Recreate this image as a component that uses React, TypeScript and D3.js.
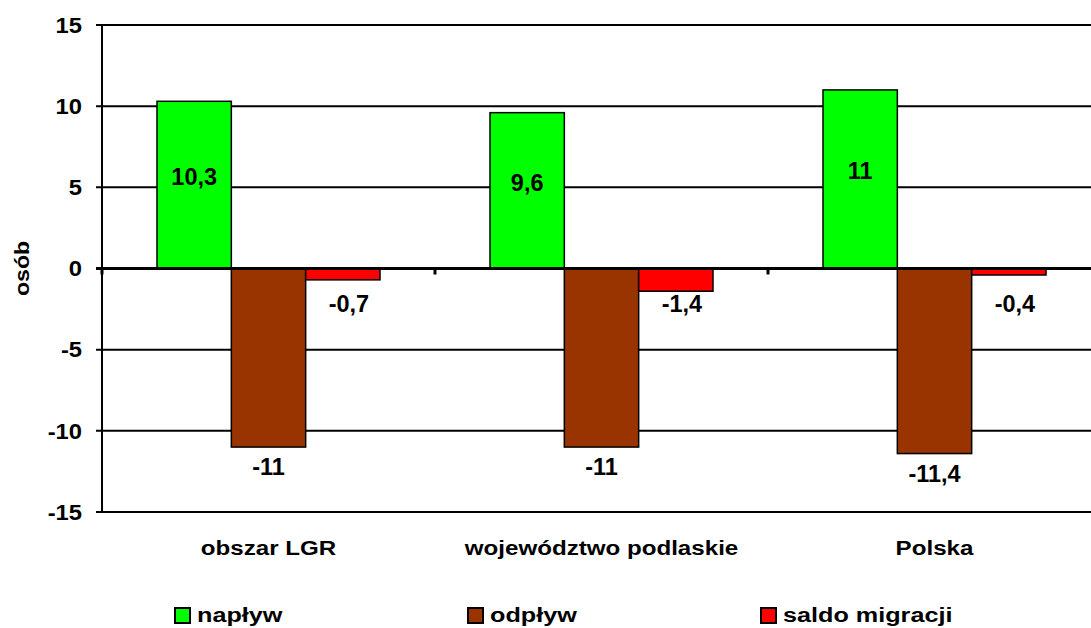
import React from "react";
import * as d3 from "d3";

const categories = ["obszar LGR", "województwo podlaskie", "Polska"];
const seriesNames = ["napływ", "odpływ", "saldo migracji"];
const naplyw = [10.3, 9.6, 11];
const odplyw = [-11, -11, -11.4];
const saldo = [-0.7, -1.4, -0.4];
const labelsNaplyw = ["10,3", "9,6", "11"];
const labelsOdplyw = ["-11", "-11", "-11,4"];
const labelsSaldo = ["-0,7", "-1,4", "-0,4"];
const yTicks = [-15, -10, -5, 0, 5, 10, 15];
const colors = ["#00ff00", "#993300", "#ff0000"];

const W = 1091;
const H = 628;
const FONT = "'Liberation Sans', Arial, sans-serif";

function SText(props: {
  x: number;
  y: number;
  sx?: number;
  size: number;
  anchor?: "start" | "middle" | "end";
  children: React.ReactNode;
}) {
  const { x, y, sx = 1, size, anchor = "start", children } = props;
  return (
    <text
      transform={`translate(${x},${y}) scale(${sx},1)`}
      dy="0.35em"
      textAnchor={anchor}
      fontSize={size}
      fill="#000"
    >
      {children}
    </text>
  );
}

export default function App() {
  const left = 102;
  const bandW = 333;
  const x = d3
    .scaleBand<string>()
    .domain(categories)
    .range([left, left + bandW * categories.length])
    .paddingInner(0)
    .paddingOuter(0);
  const inner = d3
    .scaleBand<string>()
    .domain(seriesNames)
    .range([55, bandW - 55])
    .padding(0);
  const y = d3.scaleLinear().domain([-15, 15]).range([512, 25]);

  const series = [
    { name: seriesNames[0], values: naplyw, labels: labelsNaplyw, color: colors[0] },
    { name: seriesNames[1], values: odplyw, labels: labelsOdplyw, color: colors[1] },
    { name: seriesNames[2], values: saldo, labels: labelsSaldo, color: colors[2] },
  ];

  const legendX = [175, 468, 761];

  return (
    <svg
      width={W}
      height={H}
      style={{ position: "absolute", left: 0, top: 0, background: "#fff" }}
      fontFamily={FONT}
      fontWeight="bold"
    >
      <rect x={0} y={0} width={W} height={H} fill="#fff" />
      {/* gridlines */}
      {yTicks
        .filter((t) => t !== 0)
        .map((t) => (
          <line key={t} x1={left - 6} x2={W} y1={y(t)} y2={y(t)} stroke="#000" strokeWidth={2} />
        ))}
      {/* y tick labels */}
      {yTicks.map((t) => (
        <SText key={"l" + t} x={82} y={y(t)} sx={1.08} size={22} anchor="end">
          {t}
        </SText>
      ))}
      {/* bars */}
      {series.map((s) =>
        s.values.map((v, i) => {
          const bx = (x(categories[i]) as number) + (inner(s.name) as number);
          const bw = inner.bandwidth();
          const y0 = y(Math.max(0, v));
          const y1 = y(Math.min(0, v));
          return (
            <rect
              key={s.name + i}
              x={bx}
              y={y0}
              width={bw}
              height={y1 - y0}
              fill={s.color}
              stroke="#000"
              strokeWidth={1.5}
            />
          );
        })
      )}
      {/* y axis */}
      <line x1={left} x2={left} y1={y(15)} y2={y(-15)} stroke="#000" strokeWidth={2} />
      {/* zero line */}
      <line x1={left - 6} x2={W} y1={y(0)} y2={y(0)} stroke="#000" strokeWidth={3} />
      {/* category ticks */}
      {categories.map((c) => (
        <line
          key={"t" + c}
          x1={x(c) as number}
          x2={x(c) as number}
          y1={y(0)}
          y2={y(0) + 6}
          stroke="#000"
          strokeWidth={3}
        />
      ))}
      {/* data labels */}
      {series.map((s, si) =>
        s.values.map((v, i) => {
          let cx = (x(categories[i]) as number) + (inner(s.name) as number) + inner.bandwidth() / 2;
          let ty: number;
          if (si === 0) ty = (y(v) + y(0)) / 2 - 8;
          else if (si === 1) ty = y(v) + 20;
          else {
            ty = y(0) + 35;
            cx += 6;
          }
          return (
            <SText key={"d" + s.name + i} x={cx} y={ty} size={23} sx={1.02} anchor="middle">
              {s.labels[i]}
            </SText>
          );
        })
      )}
      {/* category labels */}
      {categories.map((c) => (
        <SText key={"c" + c} x={(x(c) as number) + x.bandwidth() / 2} y={548} size={21} sx={1.15} anchor="middle">
          {c}
        </SText>
      ))}
      {/* y axis title */}
      <text
        transform={`translate(22, ${y(0)}) rotate(-90) scale(1.1,1)`}
        textAnchor="middle"
        dy="0.35em"
        fontSize={21}
        fill="#000"
      >
        osób
      </text>
      {/* legend */}
      {series.map((s, i) => (
        <g key={"lg" + s.name}>
          <rect x={legendX[i]} y={608} width={15} height={15} fill={s.color} stroke="#000" strokeWidth={2} />
          <SText x={legendX[i] + 22} y={615} size={21} sx={1.2}>
            {s.name}
          </SText>
        </g>
      ))}
    </svg>
  );
}
